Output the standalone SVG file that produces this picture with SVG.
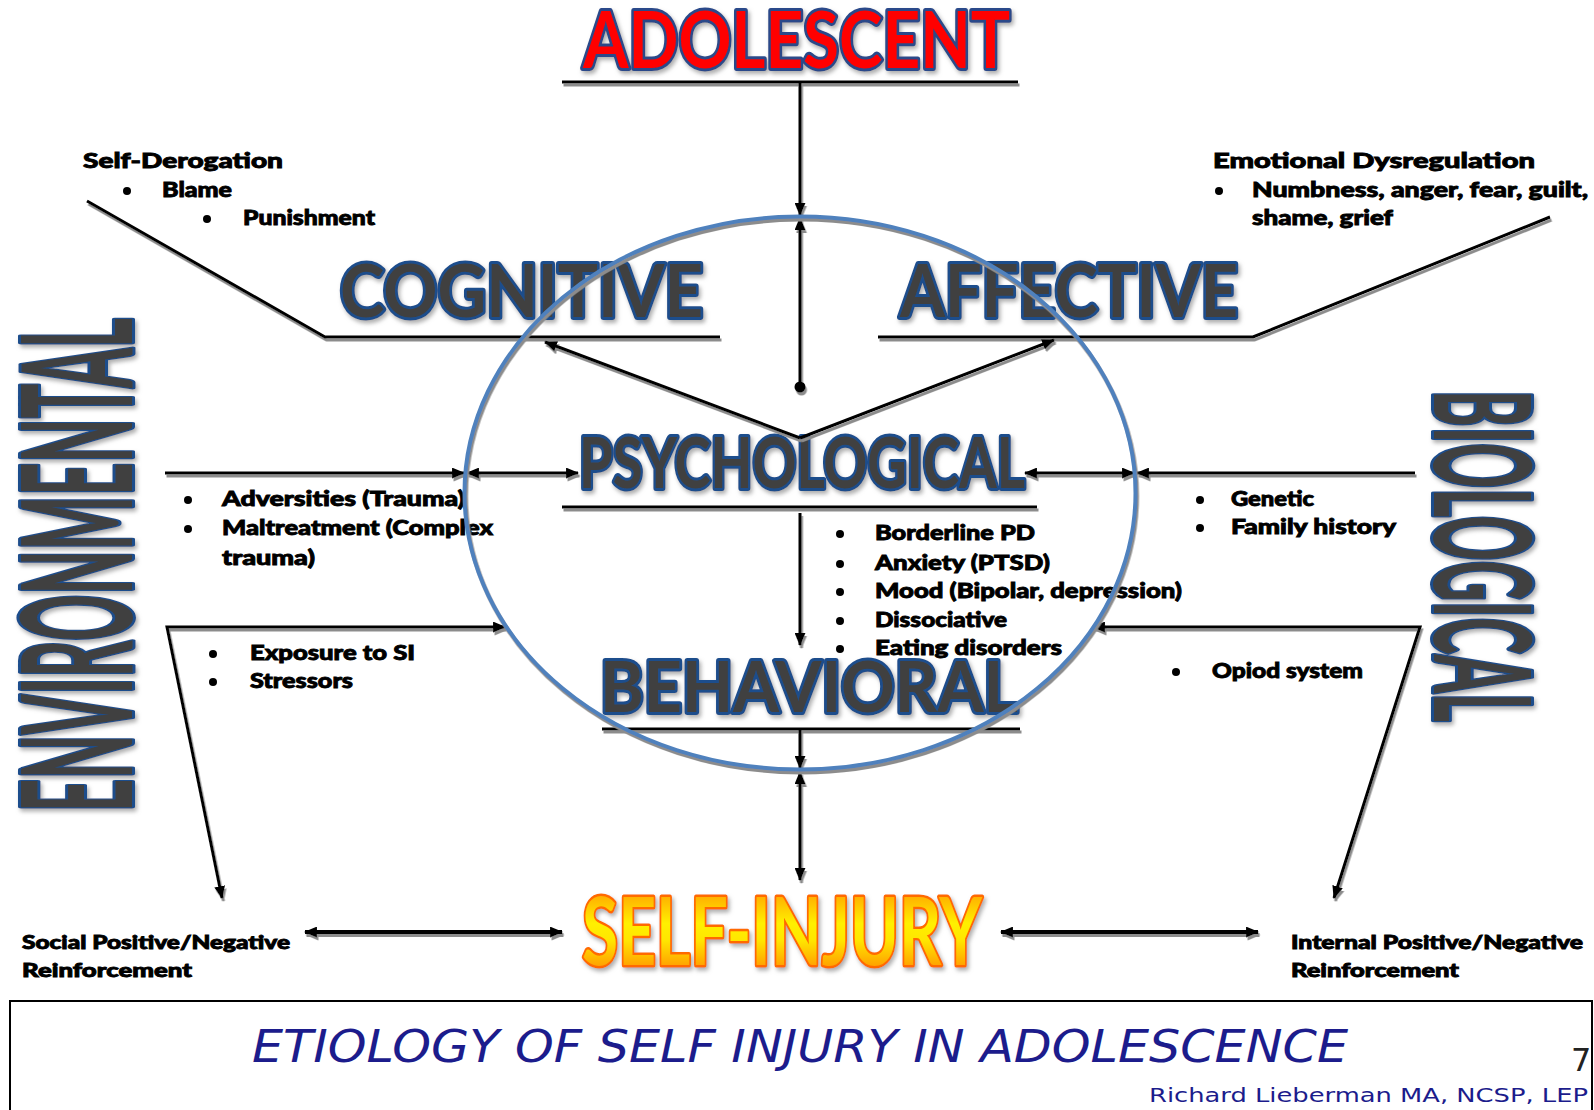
<svg xmlns="http://www.w3.org/2000/svg" xmlns:xlink="http://www.w3.org/1999/xlink" width="1594" height="1110" viewBox="0 0 1594 1110">
  <style>
    .big { font-family: Lato, "Open Sans", "Liberation Sans", sans-serif; font-weight: 700; paint-order: stroke; stroke-linejoin: round; }
    .domain { fill: #404040; stroke: #1F4E8C; stroke-width: 6; }
    .lbl { font-family: Lato, "DejaVu Sans", sans-serif; font-weight: 900; font-size: 21px; fill: #000; stroke: #000; stroke-width: 0.9; }
    .cond { font-size: 19px; }
    .line { fill: none; stroke: #000; stroke-width: 3; }
    .thick { stroke-width: 4; }
    .footer { font-family: "DejaVu Sans", Verdana, sans-serif; fill: #1C1C8C; }
  </style>
  <defs>
    <marker id="arrow" viewBox="0 0 12 10" refX="11" refY="5" markerWidth="13" markerHeight="11" markerUnits="userSpaceOnUse" orient="auto-start-reverse">
      <path d="M0,0 L12,5 L0,10 Z" fill="#000"/>
    </marker>
    <filter id="shadow" x="-10%" y="-10%" width="120%" height="120%">
      <feDropShadow dx="1.5" dy="3" stdDeviation="0.6" flood-color="#8c8c8c" flood-opacity="1"/>
    </filter>
    <filter id="softshadow" x="-20%" y="-20%" width="140%" height="140%">
      <feDropShadow dx="2" dy="3" stdDeviation="2" flood-color="#9a9a9a" flood-opacity="0.8"/>
    </filter>
    <linearGradient id="fire" x1="0" y1="0" x2="0" y2="1">
      <stop offset="0" stop-color="#FF7A00"/>
      <stop offset="0.45" stop-color="#FFF000"/>
      <stop offset="0.6" stop-color="#FFE600"/>
      <stop offset="1" stop-color="#FF7000"/>
    </linearGradient>
  </defs>

  <rect width="1594" height="1110" fill="#fff"/>

  <!-- heading -->
  <g id="adolescent" filter="url(#softshadow)">
    <text class="big" x="583" y="68" font-size="78" textLength="427" lengthAdjust="spacingAndGlyphs" fill="#FF0000" stroke="#2A4A8A" stroke-width="6">ADOLESCENT</text>
  </g>

  <!-- domain labels -->
  <g id="cognitive" filter="url(#softshadow)">
    <text class="big domain" x="340" y="317" font-size="72" textLength="363" lengthAdjust="spacingAndGlyphs">COGNITIVE</text>
  </g>
  <g id="affective" filter="url(#softshadow)">
    <text class="big domain" x="900" y="317" font-size="72" textLength="338" lengthAdjust="spacingAndGlyphs">AFFECTIVE</text>
  </g>
  <g id="psychological" filter="url(#softshadow)">
    <text class="big domain" x="579" y="488" font-size="70" textLength="446" lengthAdjust="spacingAndGlyphs">PSYCHOLOGICAL</text>
  </g>
  <g id="behavioral" filter="url(#softshadow)">
    <text class="big domain" x="600" y="712" font-size="71" textLength="418" lengthAdjust="spacingAndGlyphs">BEHAVIORAL</text>
  </g>
  <g id="environmental" filter="url(#softshadow)">
    <text class="big domain" transform="translate(132,812) rotate(-90)" x="0" y="0" font-size="154" textLength="494" lengthAdjust="spacingAndGlyphs">ENVIRONMENTAL</text>
  </g>
  <g id="biological" filter="url(#softshadow)">
    <text class="big domain" transform="translate(1434,390) rotate(90)" x="0" y="0" font-size="134" textLength="332" lengthAdjust="spacingAndGlyphs">BIOLOGICAL</text>
  </g>
  <g id="self-injury" filter="url(#softshadow)">
    <text class="big" x="582" y="965" font-size="93" textLength="400" lengthAdjust="spacingAndGlyphs" fill="url(#fire)" stroke="#FF6A00" stroke-width="5">SELF-INJURY</text>
  </g>

  <!-- detail lists -->
  <g id="self-derogation">
    <text class="lbl" x="83" y="168" textLength="200" lengthAdjust="spacingAndGlyphs">Self-Derogation</text>
    <circle cx="127" cy="191" r="4"/>
    <text class="lbl" x="162" y="197" textLength="70" lengthAdjust="spacingAndGlyphs">Blame</text>
    <circle cx="207" cy="219" r="4"/>
    <text class="lbl" x="243" y="225" textLength="132" lengthAdjust="spacingAndGlyphs">Punishment</text>
  </g>
  <g id="emotional-dysregulation">
    <text class="lbl" x="1213" y="168" textLength="322" lengthAdjust="spacingAndGlyphs">Emotional Dysregulation</text>
    <circle cx="1219" cy="191" r="4"/>
    <text class="lbl" x="1252" y="197" textLength="336" lengthAdjust="spacingAndGlyphs">Numbness, anger, fear, guilt,</text>
    <text class="lbl" x="1252" y="225" textLength="141" lengthAdjust="spacingAndGlyphs">shame, grief</text>
  </g>
  <g id="environment-factors">
    <circle cx="188" cy="500" r="4"/>
    <text class="lbl" x="222" y="506" textLength="243" lengthAdjust="spacingAndGlyphs">Adversities (Trauma)</text>
    <circle cx="188" cy="529" r="4"/>
    <text class="lbl" x="222" y="535" textLength="271" lengthAdjust="spacingAndGlyphs">Maltreatment (Complex</text>
    <text class="lbl" x="222" y="565" textLength="93" lengthAdjust="spacingAndGlyphs">trauma)</text>
  </g>
  <g id="environment-exposure">
    <circle cx="213" cy="654" r="4"/>
    <text class="lbl" x="250" y="660" textLength="165" lengthAdjust="spacingAndGlyphs">Exposure to SI</text>
    <circle cx="213" cy="682" r="4"/>
    <text class="lbl" x="250" y="688" textLength="103" lengthAdjust="spacingAndGlyphs">Stressors</text>
  </g>
  <g id="disorders">
    <circle cx="840" cy="534" r="4"/>
    <text class="lbl" x="875" y="540" textLength="160" lengthAdjust="spacingAndGlyphs">Borderline PD</text>
    <circle cx="840" cy="564" r="4"/>
    <text class="lbl" x="875" y="570" textLength="175" lengthAdjust="spacingAndGlyphs">Anxiety (PTSD)</text>
    <circle cx="840" cy="592" r="4"/>
    <text class="lbl" x="875" y="598" textLength="307" lengthAdjust="spacingAndGlyphs">Mood (Bipolar, depression)</text>
    <circle cx="840" cy="621" r="4"/>
    <text class="lbl" x="875" y="627" textLength="132" lengthAdjust="spacingAndGlyphs">Dissociative</text>
    <circle cx="840" cy="649" r="4"/>
    <text class="lbl" x="875" y="655" textLength="187" lengthAdjust="spacingAndGlyphs">Eating disorders</text>
  </g>
  <g id="biology-factors">
    <circle cx="1200" cy="500" r="4"/>
    <text class="lbl" x="1231" y="506" textLength="83" lengthAdjust="spacingAndGlyphs">Genetic</text>
    <circle cx="1200" cy="528" r="4"/>
    <text class="lbl" x="1231" y="534" textLength="165" lengthAdjust="spacingAndGlyphs">Family history</text>
  </g>
  <g id="biology-opioid">
    <circle cx="1176" cy="672" r="4"/>
    <text class="lbl" x="1212" y="678" textLength="151" lengthAdjust="spacingAndGlyphs">Opiod system</text>
  </g>
  <g id="social-reinforcement">
    <text class="lbl cond" x="22" y="949" textLength="268" lengthAdjust="spacingAndGlyphs">Social Positive/Negative</text>
    <text class="lbl cond" x="22" y="977" textLength="170" lengthAdjust="spacingAndGlyphs">Reinforcement</text>
  </g>
  <g id="internal-reinforcement">
    <text class="lbl cond" x="1291" y="949" textLength="292" lengthAdjust="spacingAndGlyphs">Internal Positive/Negative</text>
    <text class="lbl cond" x="1291" y="977" textLength="168" lengthAdjust="spacingAndGlyphs">Reinforcement</text>
  </g>

  <!-- connectors -->
  <g id="connectors" filter="url(#shadow)">
    <line class="line" x1="562" y1="82" x2="1018" y2="82"/>
    <line class="line" x1="800" y1="82" x2="800" y2="215" marker-end="url(#arrow)"/>
    <line class="line" x1="800" y1="387" x2="800" y2="218" marker-end="url(#arrow)"/>
    <circle cx="800" cy="387" r="5.5" fill="#000"/>
    <polyline class="line" points="87,201 325,337 720,337"/>
    <polyline class="line" points="878,337 1253,337 1550,217"/>
    <line class="line" x1="800" y1="438" x2="545" y2="342" marker-end="url(#arrow)"/>
    <line class="line" x1="800" y1="438" x2="1054" y2="340" marker-end="url(#arrow)"/>
    <line class="line" x1="562" y1="507" x2="1037" y2="507"/>
    <line class="line" x1="165" y1="473" x2="464" y2="473" marker-end="url(#arrow)"/>
    <line class="line" x1="467" y1="473" x2="578" y2="473" marker-start="url(#arrow)" marker-end="url(#arrow)"/>
    <line class="line" x1="1415" y1="473" x2="1137" y2="473" marker-end="url(#arrow)"/>
    <line class="line" x1="1134" y1="473" x2="1025" y2="473" marker-start="url(#arrow)" marker-end="url(#arrow)"/>
    <line class="line" x1="800" y1="513" x2="800" y2="645" marker-end="url(#arrow)"/>
    <line class="line" x1="602" y1="729" x2="1020" y2="729"/>
    <line class="line" x1="800" y1="729" x2="800" y2="768" marker-end="url(#arrow)"/>
    <line class="line" x1="800" y1="772" x2="800" y2="880" marker-start="url(#arrow)" marker-end="url(#arrow)"/>
    <polyline class="line" points="222,898 167,627 505,627" marker-start="url(#arrow)" marker-end="url(#arrow)"/>
    <polyline class="line" points="1334,898 1420,627 1093,627" marker-start="url(#arrow)" marker-end="url(#arrow)"/>
    <line class="line thick" x1="305" y1="932" x2="562" y2="932" marker-start="url(#arrow)" marker-end="url(#arrow)"/>
    <line class="line thick" x1="1001" y1="932" x2="1258" y2="932" marker-start="url(#arrow)" marker-end="url(#arrow)"/>
  </g>

  <!-- psychological sphere -->
  <g id="psyche-circle" filter="url(#shadow)">
    <ellipse cx="800" cy="493" rx="335.5" ry="276.5" fill="none" stroke="#4F81BD" stroke-width="4"/>
  </g>

  <!-- footer panel -->
  <g id="footer">
    <rect x="10" y="1001" width="1582" height="120" fill="none" stroke="#000" stroke-width="2"/>
    <text class="footer" x="252" y="1062" font-size="45" font-style="italic" textLength="1096" lengthAdjust="spacingAndGlyphs">ETIOLOGY OF SELF INJURY IN ADOLESCENCE</text>
    <text x="1571" y="1071" font-family="'DejaVu Sans', sans-serif" font-size="32" fill="#222">7</text>
    <text class="footer" x="1149" y="1102" font-size="20" textLength="439" lengthAdjust="spacingAndGlyphs">Richard Lieberman MA, NCSP, LEP</text>
  </g>
</svg>
